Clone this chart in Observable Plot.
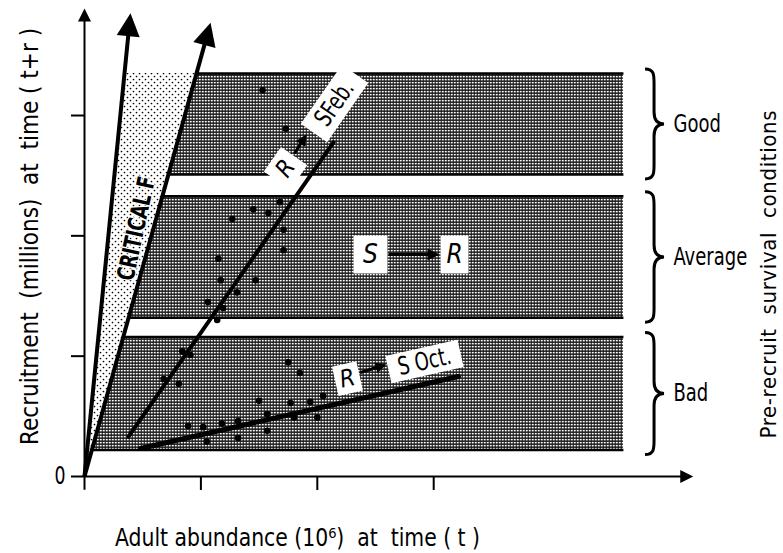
<!DOCTYPE html>
<html><head><meta charset="utf-8">
<script src="https://cdn.jsdelivr.net/npm/d3@7"></script>
<script src="https://cdn.jsdelivr.net/npm/@observablehq/plot@0.6"></script>
<style>html,body{margin:0;padding:0;background:#fff;} svg{display:block}</style>
</head><body><div id="chart"></div>
<script>
// ---------------- data ----------------
const xTicks = [0, 1, 2, 3];
const yTicks = [0, 1, 2, 3];
const conditions = ["Good", "Average", "Bad"];
const bandTop = [3.35, 2.33, 1.16];
const bandBottom = [2.51, 1.32, 0.22];
const bandRight = 4.63;
const stippleTop = 3.35;
const criticalTips = [{x: 0.395, y: 3.85}, {x: 1.083, y: 3.77}];
const yAxisTip = {x: 0, y: 3.89};
const xAxisTip = {x: 5.23, y: 0};
const febX = [1.53, 1.73, 1.68, 1.45, 1.58, 1.27, 1.71, 1.71, 1.15, 1.17, 1.47, 1.31, 1.06, 1.19, 1.14, 0.84, 0.91, 0.68, 0.81];
const febY = [3.21, 2.89, 2.28, 2.22, 2.19, 2.14, 2.05, 1.88, 1.81, 1.63, 1.63, 1.53, 1.45, 1.40, 1.30, 1.04, 1.01, 0.81, 0.77];
const octX = [1.75, 1.85, 1.50, 1.57, 1.77, 1.94, 2.05, 1.80, 2.00, 0.89, 1.02, 1.18, 1.32, 1.05, 1.32, 1.57];
const octY = [0.95, 0.86, 0.63, 0.52, 0.61, 0.62, 0.67, 0.49, 0.49, 0.42, 0.41, 0.44, 0.46, 0.29, 0.32, 0.38];
const febLine = [{x: 0.378, y: 0.332}, {x: 2.139, y: 2.776}];
const octLine = [{x: 0.481, y: 0.233}, {x: 3.213, y: 0.831}];
const xLabel = "Adult abundance (10\u2076)  at  time ( t )";
const yLabel = "Recruitment  (millions)  at  time ( t+r )";
const rightLabel = "Pre-recruit  survival  conditions";
// -------------------------------------

const FONT = '"DejaVu Sans Condensed","Liberation Sans Narrow","Liberation Sans",sans-serif';
const X = {domain: [0, 6], range: [84, 84 + 6 * 116.4]};
const Y = {domain: [0, 4], range: [476, 476 - 4 * 120.33]};
const sx = Plot.scale({x: X}), sy = Plot.scale({y: Y});
const px = p => [sx.apply(p.x), sy.apply(p.y)];
const inv = (a, b) => ({x: sx.invert(a), y: sy.invert(b)});
const origin = {x: 0, y: 0};
function shorten(from, to, d) {
  const [x0, y0] = px(from), [x1, y1] = px(to);
  const L = Math.hypot(x1 - x0, y1 - y0);
  return inv(x1 - (x1 - x0) * d / L, y1 - (y1 - y0) * d / L);
}
function headAngle(from, to) { const [x0, y0] = px(from), [x1, y1] = px(to); return Math.atan2(x1 - x0, -(y1 - y0)); }
function textAngle(from, to) { const [x0, y0] = px(from), [x1, y1] = px(to); return Math.atan2(y1 - y0, x1 - x0) * 180 / Math.PI; }
const rot = (x, y, a) => [x * Math.cos(a) - y * Math.sin(a), x * Math.sin(a) + y * Math.cos(a)];
const headSym = (len, w, a) => ({draw(ctx) {
  const p = [[0, 0], [w / 2, len], [-w / 2, len]].map(([x, y]) => rot(x, y, a));
  ctx.moveTo(...p[0]); ctx.lineTo(...p[1]); ctx.lineTo(...p[2]); ctx.closePath();
}});
const boxSym = (w, h, deg) => ({draw(ctx) {
  const a = deg * Math.PI / 180;
  const p = [[-w/2, -h/2], [w/2, -h/2], [w/2, h/2], [-w/2, h/2]].map(([x, y]) => rot(x, y, a));
  ctx.moveTo(...p[0]); ctx.lineTo(...p[1]); ctx.lineTo(...p[2]); ctx.lineTo(...p[3]); ctx.closePath();
}});
function arrowHead(from, to, len, w) {
  return Plot.dot([to], {x: "x", y: "y", r: 5, symbol: headSym(len, w, headAngle(from, to)), fill: "black", stroke: "none"});
}
function shaft(from, to, cut, sw) {
  const e = shorten(from, to, cut);
  return Plot.link([from], {x1: from.x, y1: from.y, x2: e.x, y2: e.y, stroke: "black", strokeWidth: sw});
}
function whiteBox(p, w, h, deg) {
  return Plot.dot([p], {x: "x", y: "y", r: 5, symbol: boxSym(w, h, deg), fill: "white", stroke: "none"});
}

const slopeR = criticalTips[1].x / criticalTips[1].y;
const slopeL = criticalTips[0].x / criticalTips[0].y;
const bandRows = conditions.flatMap((c, i) => [bandTop[i], bandBottom[i]].map(y => ({band: c, y, x1: y * slopeR, x2: bandRight})));
const stippleRows = [0, stippleTop].map(y => ({y, x1: y * slopeL, x2: y * slopeR}));
const febPoints = febX.map((x, i) => ({x, y: febY[i]}));
const octPoints = octX.map((x, i) => ({x, y: octY[i]}));

const febAng = textAngle(febLine[0], febLine[1]);
const octAng = textAngle(octLine[0], octLine[1]);
const critAng = (textAngle(origin, criticalTips[0]) + textAngle(origin, criticalTips[1])) / 2 + 1.5;

// label anchors (annotation positions)
const febR = {x: 1.727, y: 2.56}, febS = {x: 2.148, y: 3.10};
const febArrow = [{x: 1.804, y: 2.684}, {x: 1.907, y: 2.842}];
const avgS = {x: 2.457, y: 1.845}, avgR = {x: 3.179, y: 1.845};
const avgArrow = [{x: 2.612, y: 1.845}, {x: 3.05, y: 1.845}];
const octR = {x: 2.259, y: 0.814}, octS = {x: 2.921, y: 0.956};
const octArrow = [{x: 2.371, y: 0.864}, {x: 2.594, y: 0.931}];

function braces() {
  const g = d3.create("svg:g").attr("fill", "none").attr("stroke", "black").attr("stroke-width", 3);
  conditions.forEach((c, i) => {
    const top = sy.apply(bandTop[i]) - 4, bot = sy.apply(bandBottom[i]) + 5, mid = (top + bot) / 2;
    const x0 = sx.apply(4.82), xm = x0 + 9, xt = x0 + 19;
    g.append("path").attr("d",
      `M${x0},${top} C${xm},${top} ${xm},${top + 6} ${xm},${top + 14} L${xm},${mid - 12} C${xm},${mid - 4} ${xm + 3},${mid} ${xt},${mid} ` +
      `C${xm + 3},${mid} ${xm},${mid + 4} ${xm},${mid + 12} L${xm},${bot - 14} C${xm},${bot - 6} ${xm},${bot} ${x0},${bot}`);
  });
  return g.node();
}

const bandMid = conditions.map((c, i) => ({c, y: (bandTop[i] + bandBottom[i]) / 2}));

const svg = Plot.plot({
  width: 783, height: 553, margin: 0,
  x: {...X, axis: null}, y: {...Y, axis: null},
  style: {fontFamily: FONT, background: "white", color: "black"},
  marks: [
    Plot.areaX(bandRows, {y: "y", x1: "x1", x2: "x2", z: "band", fill: "url(#hatch)"}),
    Plot.link(bandRows, {x1: "x1", x2: "x2", y1: "y", y2: "y", stroke: "black", strokeWidth: 2.5}),
    Plot.areaX(stippleRows, {y: "y", x1: "x1", x2: "x2", fill: "url(#stipple)"}),
    ...criticalTips.map(t => shaft(origin, t, 14, 4)),
    ...criticalTips.map(t => arrowHead(origin, t, 23, 23)),
    // axes
    Plot.ruleX([0], {y1: -0.115, y2: shorten(origin, yAxisTip, 8).y, stroke: "black", strokeWidth: 2}),
    Plot.ruleY([0], {x1: 0, x2: shorten(origin, xAxisTip, 8).x, stroke: "black", strokeWidth: 2}),
    arrowHead(origin, yAxisTip, 13, 13),
    arrowHead(origin, xAxisTip, 13, 13),
    Plot.ruleX(xTicks.slice(1), {y1: 0, y2: -0.116, stroke: "black", strokeWidth: 2}),
    Plot.ruleY(yTicks, {x1: -0.112, x2: 0, stroke: "black", strokeWidth: 2}),
    Plot.text(["0"], {x: 0, y: 0, dx: -19, textAnchor: "end", fontSize: 24, fill: "black"}),
    // regressions and points
    Plot.line(febLine, {x: "x", y: "y", stroke: "black", strokeWidth: 4}),
    Plot.line(octLine, {x: "x", y: "y", stroke: "black", strokeWidth: 5}),
    Plot.dot(febPoints, {x: "x", y: "y", r: 3.3, fill: "black"}),
    Plot.dot(octPoints, {x: "x", y: "y", r: 3.3, fill: "black"}),
    // CRITICAL F
    Plot.text(["CRITICAL F"], {x: 0.447, y: 2.061, rotate: critAng, fontSize: 24, fontWeight: "bold", fill: "black", stroke: "white", strokeWidth: 2.5}),
    // Feb label
    whiteBox(febR, 30, 32, febAng), whiteBox(febS, 72, 32, febAng),
    shaft(febArrow[0], febArrow[1], 6, 3), arrowHead(febArrow[0], febArrow[1], 11, 11),
    Plot.text(["R"], {x: febR.x, y: febR.y, rotate: febAng, fontSize: 24, fontStyle: "italic", fill: "black"}),
    Plot.text(["SFeb."], {x: febS.x, y: febS.y, rotate: febAng, fontSize: 25, fill: "black"}),
    // Average label
    whiteBox(avgS, 34, 38, 0), whiteBox(avgR, 28, 38, 0),
    shaft(avgArrow[0], avgArrow[1], 6, 3), arrowHead(avgArrow[0], avgArrow[1], 12, 12),
    Plot.text(["S"], {x: avgS.x, y: avgS.y, fontSize: 26, fontStyle: "italic", fill: "black"}),
    Plot.text(["R"], {x: avgR.x, y: avgR.y, fontSize: 26, fontStyle: "italic", fill: "black"}),
    // Oct label
    whiteBox(octR, 25, 30, octAng), whiteBox(octS, 74, 28, octAng),
    shaft(octArrow[0], octArrow[1], 6, 3), arrowHead(octArrow[0], octArrow[1], 11, 11),
    Plot.text(["R"], {x: octR.x, y: octR.y, rotate: octAng, fontSize: 24, fontStyle: "italic", fill: "black"}),
    Plot.text(["S Oct."], {x: octS.x, y: octS.y, rotate: octAng, fontSize: 25, fill: "black"}),
    // braces & condition labels
    braces,
    Plot.text(bandMid, {x: 5.06, y: "y", text: "c", textAnchor: "start", fontSize: 25, fill: "black"}),
    // axis titles
    Plot.text([xLabel], {x: 1.83, y: -0.515, fontSize: 25, fill: "black"}),
    Plot.text([yLabel], {x: -0.4725, y: 1.995, rotate: -90, fontSize: 25, fill: "black"}),
    Plot.text([rightLabel], {x: 5.876, y: 1.679, rotate: -90, fontSize: 22, fill: "black"})
  ]
});

const defs = d3.select(svg).insert("defs", ":first-child");
const hatch = defs.append("pattern").attr("id", "hatch").attr("width", 3).attr("height", 3).attr("patternUnits", "userSpaceOnUse");
hatch.append("rect").attr("width", 3).attr("height", 3).attr("fill", "#1a1a1a");
hatch.append("rect").attr("x", 0.8).attr("y", 0.9).attr("width", 1.9).attr("height", 1.5).attr("fill", "#fff");
const stip = defs.append("pattern").attr("id", "stipple").attr("width", 6).attr("height", 6).attr("patternUnits", "userSpaceOnUse");
stip.append("rect").attr("width", 6).attr("height", 6).attr("fill", "#fff");
stip.append("circle").attr("cx", 1.5).attr("cy", 1.5).attr("r", 0.85).attr("fill", "#000");
stip.append("circle").attr("cx", 4.5).attr("cy", 4.5).attr("r", 0.85).attr("fill", "#000");

document.getElementById("chart").appendChild(svg);

// narrow, tall lettering like the original: fit texts to measured lengths
const targets = new Map([[xLabel, 365], [yLabel, 417], [rightLabel, 328]]);
const narrow = new Set(["Good", "Average", "Bad", "CRITICAL F", "SFeb.", "S Oct.", "0"]);
d3.select(svg).selectAll("text").each(function() {
  const t = this.textContent;
  const natural = this.getComputedTextLength();
  let L = null;
  if (targets.has(t)) L = targets.get(t);
  else if (narrow.has(t)) L = natural * 0.8;
  if (L) { this.setAttribute("textLength", L.toFixed(1)); this.setAttribute("lengthAdjust", natural > L ? "spacingAndGlyphs" : "spacing"); }
});
</script></body></html>
